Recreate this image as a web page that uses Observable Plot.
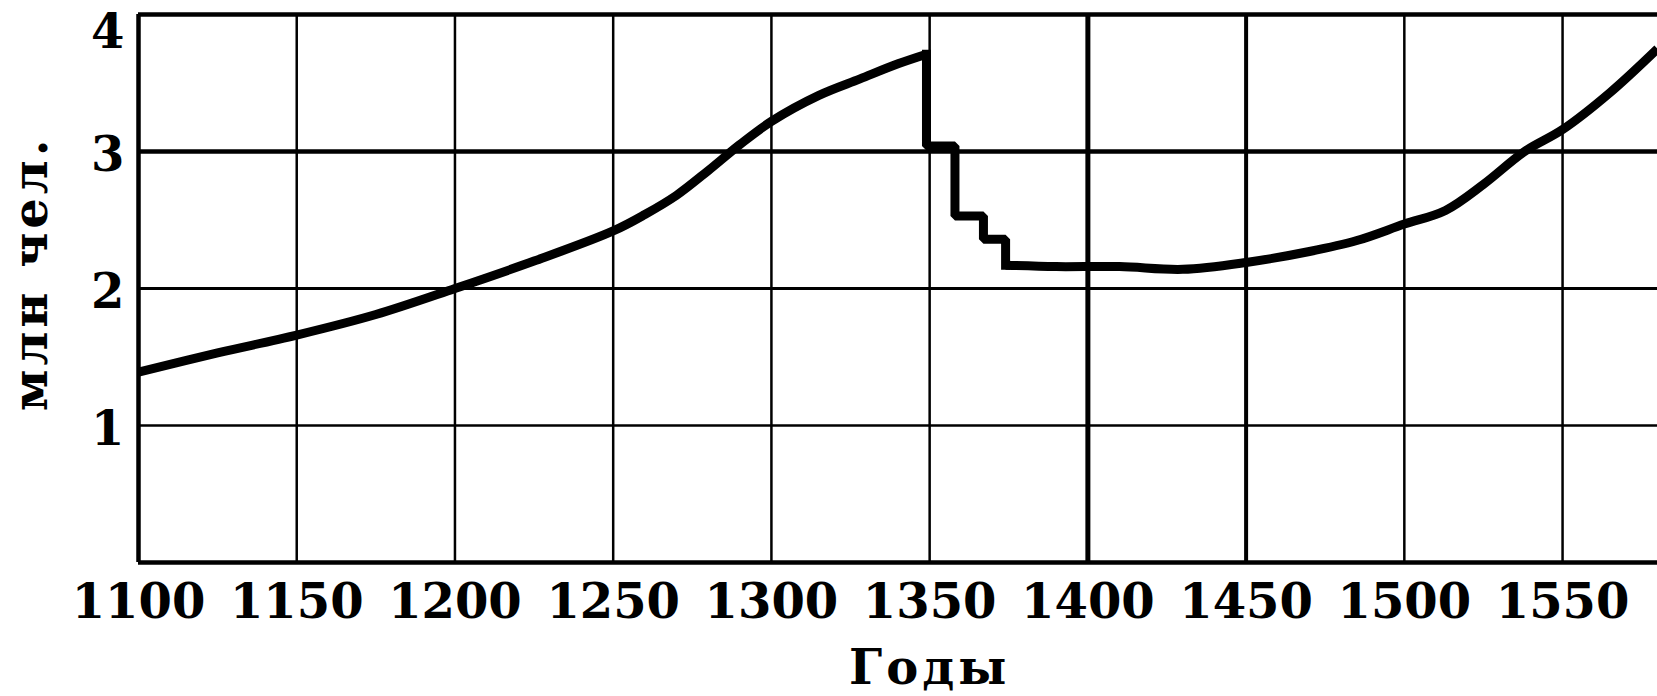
<!DOCTYPE html>
<html><head><meta charset="utf-8">
<script src="https://cdn.jsdelivr.net/npm/d3@7"></script>
<script src="https://cdn.jsdelivr.net/npm/@observablehq/plot@0.6"></script>
<style>
html,body{margin:0;padding:0;background:#fff;}
</style></head><body><div id="chart"></div>
<script>
const years = [1100,1125,1150,1175,1200,1225,1250,1260,1270,1280,1290,1300,1315,1328,1340,1349,1349,1358,1358,1367,1367,1374,1374,1390,1410,1430,1450,1470,1485,1500,1513,1525,1538,1550,1565,1580];
const population = [1.39,1.53,1.66,1.81,2.00,2.20,2.42,2.54,2.68,2.86,3.05,3.22,3.41,3.53,3.64,3.71,3.04,3.04,2.53,2.53,2.36,2.36,2.17,2.16,2.16,2.14,2.19,2.27,2.35,2.47,2.57,2.76,3.00,3.16,3.43,3.75];
const xTicks = [1100,1150,1200,1250,1300,1350,1400,1450,1500,1550];
const yTicks = [1,2,3];
const yTopTick = [4];
const yLabel = "млн чел.";
const xLabel = "Годы";

const data = years.map((y, i) => ({year: y, pop: population[i]}));
// split into smooth growth parts and the stepwise plague drop
const stepStart = years.findIndex((y, i) => y === years[i + 1]);
let stepEnd = 0;
years.forEach((y, i) => { if (i > 0 && y === years[i - 1]) stepEnd = i; });
const smooth = [
  ...data.slice(0, stepStart + 1).map(d => ({...d, part: "a"})),
  ...data.slice(stepEnd).map(d => ({...d, part: "b"}))
];
const steps = data.slice(stepStart, stepEnd + 1);

const font = "'DejaVu Serif', 'Liberation Serif', serif";

const plot = Plot.plot({
  width: 1657, height: 696,
  marginTop: 14, marginLeft: 138, marginRight: 0, marginBottom: 134,
  x: {domain: [1100, 1580]},
  y: {domain: [0, 4]},
  style: {fontFamily: font, background: "#fff", color: "#000"},
  marks: [
    Plot.ruleX(xTicks.slice(1), {stroke: "#000", strokeWidth: d => d === 1400 ? 5 : d === 1450 ? 4 : 2.5}),
    Plot.ruleY(yTicks, {stroke: "#000", strokeWidth: d => d === 3 ? 4.5 : d === 2 ? 3 : 2.5}),
    Plot.ruleX([1100], {stroke: "#000", strokeWidth: 4.5}),
    Plot.ruleY([0, 4], {stroke: "#000", strokeWidth: 4.5}),
    Plot.line(smooth, {x: "year", y: "pop", z: "part", curve: "catmull-rom", stroke: "#000", strokeWidth: 9, strokeLinecap: "butt"}),
    Plot.line(steps, {x: "year", y: "pop", stroke: "#000", strokeWidth: 9, strokeLinejoin: "miter", strokeLinecap: "square"}),
    Plot.axisX(xTicks, {tickSize: 0, tickPadding: 21, fontSize: 48, fontWeight: "bold", label: null, tickFormat: d => String(d)}),
    Plot.axisY(yTicks, {tickSize: 0, tickPadding: 14, fontSize: 48, fontWeight: "bold", label: null, dy: 4, tickFormat: d => String(d)}),
    Plot.axisY(yTopTick, {tickSize: 0, tickPadding: 14, fontSize: 48, fontWeight: "bold", label: null, dy: 18, tickFormat: d => String(d)}),
    Plot.text([yLabel], {text: d => d, x: () => 1100, y: () => 2.11, rotate: -90, dx: -107, fontSize: 48, fontWeight: "bold"}),
    Plot.text([xLabel], {text: d => d, x: () => 1350, y: () => 0, dy: 106, fontSize: 48, fontWeight: "bold"})
  ]
});
d3.select(plot).selectAll('g[aria-label="text"] text').style("letter-spacing", "4px");
document.getElementById("chart").appendChild(plot);
</script></body></html>
